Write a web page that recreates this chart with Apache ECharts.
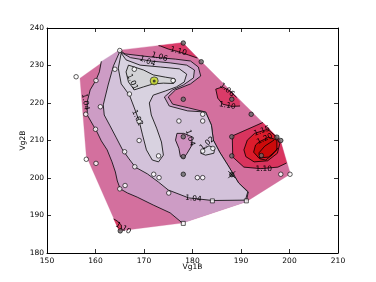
<!DOCTYPE html>
<html><head><meta charset="utf-8">
<script src="https://cdn.jsdelivr.net/npm/echarts@6/dist/echarts.min.js"></script>
<style>html,body{margin:0;padding:0;background:#fff}#c{width:376px;height:282px}</style>
</head><body><div id="c"></div>
<script>
const xTicks=[150,160,170,180,190,200,210];
const yTicks=[180,190,200,210,220,230,240];
// contour regions in data units [Vg1B, Vg2B, s]; s=0: edge to next point lies on the hull (no line)
const hull=[[156.8,226.6],[164.9,234.1],[178,236.1],[181.9,231],[198.1,210.1],[200.2,201.1],[191.1,193.7],[177.9,188],[164.9,185.9],[158.1,205.9]];
const regC=[[161.2,231.1,0],[164.9,234.1],[166.1,233.1],[171.3,232.3],[176.5,231.7],[179.6,231.2],[181.2,229.6],[181.7,227.2],[179.6,225.1],[176.5,223.5],[175.0,221.6],[175.9,219.7],[179.2,218.7],[182.7,217.6],[183.9,214.1],[184.3,210.1],[185.6,206.9],[187.4,203.2],[189.5,198.7],[191.5,196.3],[191.1,193.7,0],[177.9,188],[175.4,190.7],[171.9,192.8],[168.6,194.9],[166.6,196.0],[165.1,197.1],[164.5,199.2],[164.1,201.6],[163.4,204.3],[162.4,207.5],[161.2,209.9],[160.3,212.3],[159.5,214.1],[158.3,216.8],[158.3,220.3],[158.9,223.5],[160.1,226.1],[160.8,228.3]];
const regB=[[165.0,233.7],[167.2,232.1],[171.3,231.2],[175.4,230.7],[178.8,230.1],[180.4,228.8],[180.2,226.7],[178.1,224.8],[175.9,223.5],[174.2,221.6],[175.2,219.2],[179.0,217.9],[182.7,217.6],[183.9,214.1],[184.3,210.1],[185.6,206.9],[187.4,203.2],[189.5,198.7],[191.4,196.3],[190.9,194.1],[184.1,194.0],[179.2,194.7],[175.0,196.8],[173.0,198.9],[170.7,201.1],[168.2,202.9],[166.8,205.3],[165.5,207.7],[164.3,210.7],[163.0,213.9],[161.8,216.8],[161.6,219.5],[162.6,224.8],[163.7,229.9]];
const regA=[[165.3,233.3],[164.7,229.3],[165.3,225.1],[167.0,222.1],[168.0,218.7],[169.0,215.2],[169.7,211.5],[170.5,207.5],[171.7,204.8],[173.0,204.3],[174.0,206.1],[173.6,209.6],[172.6,213.3],[171.5,216.8],[171.1,220.0],[171.9,222.1],[174.4,223.2],[176.7,224.3],[178.3,225.6],[178.8,227.7],[177.3,229.1],[173.4,229.6],[169.2,230.1],[166.3,231.5]];
const regA0=[[166.8,230.1],[169.9,228.8],[171.9,227.5],[174.4,226.9],[176.3,226.5],[176.5,225.9],[176.1,225.2],[174.0,225.3],[171.9,225.1],[169.9,224.3],[168.0,223.5],[166.8,225.6],[166.3,228.3]];
const smallLoop=[[182.0,207.5],[183.4,208.6],[184.6,207.9],[184.4,206.6],[182.7,206.1],[181.7,206.6]];
const blob=[[176.8,211.9],[178.2,211.9],[179.9,211.0],[179.9,208.8],[178.9,206.6],[178.2,205.3],[177.5,205.7],[177.2,207.9],[176.5,210.1]];
const regE1=[[173.0,235.3,0],[178,236.1,0],[181.0,232.0],[179.2,232.8],[177.1,233.7],[175.0,234.4],[173.4,235.2]];
const regE2=[[184.8,223.7],[186.2,224.3],[187.7,223.2],[189.1,221.5,0],[189.7,220.5,0],[189.8,219.2],[188.1,219.1],[186.2,219.7],[185.2,221.3]];
const regEbl=[[163.75,189.1],[164.5,188.5],[165.3,187.5],[165.4,186.4,0],[164.9,185.9,0]];
const regE3=[[188.2,211.2],[194.5,214.8,0],[198.1,210.1,0],[199.4,204.0],[197.6,202.9],[194.1,202.5],[190.6,202.9],[188.3,205.6]];
const regF=[[192.8,211.9],[195.5,213.0],[197.0,211.3],[198.0,209.2],[197.5,206.6],[195.5,204.6],[192.7,204.3],[191.0,205.7],[190.6,207.5],[191.3,210.1]];
const regG=[[193.7,209.6],[195.7,210.9],[197.4,210.1],[197.4,207.5],[195.7,205.6],[193.7,205.3],[192.6,206.9],[193.0,208.8]];
const hook=[[196.8,210.1],[194.9,208.5],[193.7,206.7],[193.9,205.1],[195.1,204.8],[196.4,206.1],[197.6,208.0]];
// contour labels
const labelText=['1.04','1.01','1.02','1.04','1.06','1.10','1.06','1.10','1.15','1.20','1.10','1.04','1.02','1.04','1.10'];
const labelPos=[[157.9,220.3],[167.6,225.6],[168.6,216.0],[170.7,231.1],[173.2,232.3],[177.1,233.8],[187.1,223.5],[187.2,219.3],[194.3,212.5],[194.9,210.4],[194.7,202.4],[180.2,194.5],[183.0,209.2],[179.5,210.7],[165.7,186.6]];
const labelRot=[-80,-65,-65,-22,-18,-15,-40,-10,20,25,0,-5,40,-72,-30];
// sample points
const whitePts=[[156,227],[160.1,226],[165,234],[164,229],[168,229],[167,222.4],[161,219],[158,217],[160,213],[169,215.1],[176,226],[177.2,215.2],[182.1,217],[182.1,215.2],[184.2,207.9],[182.1,207.2],[173,205.9],[172,201],[173.1,200.1],[181,200.1],[182.1,200.1],[166,207],[169,210],[168.1,203],[158.1,205],[160.1,203.9],[166.1,198],[165,197.1],[175.1,196],[198.2,201],[200.1,201]];
const darkPts=[[178.1,236],[181.8,231],[178.1,221],[188.1,221],[192.1,217],[188.1,211],[188.1,205.9],[194.2,206],[197.4,210.9],[198.2,210],[178.1,211],[178.1,205.7],[178.1,201],[165.1,185.9]];
const squarePts=[[184.1,193.9],[191.1,193.9],[178.1,187.9]];
const crossPts=[[188.1,200.9]];
const yellowPts=[[172.1,225.9]];

const regions=[
 {pts:hull,fill:'#d3709e',line:false},
 {pts:regC,fill:'#cd9cc5',line:true},
 {pts:regB,fill:'#d3c2da',line:true},
 {pts:regA,fill:'#d8d2e0',line:true},
 {pts:regA0,fill:'#d3d3d6',line:true},
 {pts:smallLoop,fill:'#d8d2e0',line:true},
 {pts:blob,fill:'#cf93c0',line:true},
 {pts:regE1,fill:'#da3b68',line:true},
 {pts:regE2,fill:'#da3b68',line:true},
 {pts:regEbl,fill:'#d83a60',line:true},
 {pts:regE3,fill:'#d9345e',line:true},
 {pts:regF,fill:'#dc1c2c',line:true},
 {pts:regG,fill:'#cc0a0a',line:true}
];
const LS={fill:'transparent',stroke:'#000',lineWidth:0.8};
function renderRegion(params,api){
  const r=regions[api.value(0)];
  const pts=r.pts.map(p=>api.coord([p[0],p[1]]));
  const ch=[{type:'polygon',shape:{points:pts},style:{fill:r.fill,stroke:r.fill,lineWidth:0.3}}];
  if(r.line){
    const n=r.pts.length,start=r.pts.findIndex(p=>p[2]===0);
    if(start<0){ch.push({type:'polygon',shape:{points:pts},style:LS});}
    else{let cur=[];for(let k=1;k<=n;k++){const i=(start+k)%n;cur.push(pts[i]);if(r.pts[i][2]===0){if(cur.length>1)ch.push({type:'polyline',shape:{points:cur},style:LS});cur=[];}}}
  }
  return {type:'group',children:ch};
}
function renderHook(params,api){
  return {type:'polyline',shape:{points:hook.map(p=>api.coord(p))},style:LS};
}
function renderLabel(params,api){
  const i=api.value(2),c=api.coord([api.value(0),api.value(1)]);
  return {type:'text',x:c[0],y:c[1],rotation:labelRot[i]*Math.PI/180,
    style:{text:labelText[i],fill:'#000',fontSize:7.5,fontFamily:'DejaVu Sans',align:'center',verticalAlign:'middle'}};
}
const font={fontFamily:'DejaVu Sans',fontSize:7.5,color:'#000'};
const axisCommon={type:'value',splitLine:{show:false},axisLine:{onZero:false,lineStyle:{color:'#000',width:1}},axisTick:{inside:true,length:4,lineStyle:{color:'#000',width:0.8}}};
const chart=echarts.init(document.getElementById('c'));
chart.setOption({
  animation:false,backgroundColor:'#fff',
  grid:{left:47,top:28,width:291,height:225,show:false},
  xAxis:[
    Object.assign({},axisCommon,{position:'bottom',min:xTicks[0],max:xTicks[xTicks.length-1],interval:10,
      axisLabel:Object.assign({margin:4},font),name:'Vg1B',nameLocation:'middle',nameGap:10,nameMoveOverlap:false,nameTextStyle:Object.assign({verticalAlign:'top'},font)}),
    Object.assign({},axisCommon,{position:'top',min:xTicks[0],max:xTicks[xTicks.length-1],interval:10,axisLabel:{show:false}})
  ],
  yAxis:[
    Object.assign({},axisCommon,{position:'left',min:yTicks[0],max:yTicks[yTicks.length-1],interval:10,
      axisLabel:Object.assign({margin:3},font),name:'Vg2B',nameLocation:'middle',nameGap:20,nameMoveOverlap:false,nameRotate:90,nameTextStyle:font}),
    Object.assign({},axisCommon,{position:'right',min:yTicks[0],max:yTicks[yTicks.length-1],interval:10,axisLabel:{show:false}})
  ],
  series:[
    {type:'custom',renderItem:renderRegion,data:regions.map((r,i)=>[i]),encode:{x:0},z:1,silent:true},
    {type:'custom',renderItem:renderHook,data:[[0]],z:2,silent:true},
    {type:'custom',renderItem:renderLabel,data:labelPos.map((p,i)=>[p[0],p[1],i]),encode:{x:0,y:1},z:3,silent:true},
    {type:'scatter',data:whitePts,symbol:'circle',symbolSize:4.5,itemStyle:{color:'#fff',borderColor:'#000',borderWidth:0.8},z:4},
    {type:'scatter',data:darkPts,symbol:'circle',symbolSize:4.5,itemStyle:{color:'#6a6a6a',borderColor:'#000',borderWidth:0.8},z:4},
    {type:'scatter',data:squarePts,symbol:'rect',symbolSize:4,itemStyle:{color:'#fff',borderColor:'#000',borderWidth:0.8},z:4},
    {type:'scatter',data:crossPts,symbol:'circle',symbolSize:4.5,itemStyle:{color:'#444',borderColor:'#000',borderWidth:0.8},z:4},
    {type:'scatter',data:crossPts,symbol:'path://M0,0L10,10M10,0L0,10',symbolSize:7,itemStyle:{color:'transparent',borderColor:'#000',borderWidth:1},z:5},
    {type:'scatter',data:yellowPts,symbol:'circle',symbolSize:8,itemStyle:{color:'#c8dc1e',borderColor:'#333',borderWidth:1},z:5},
    {type:'scatter',data:yellowPts,symbol:'circle',symbolSize:3,itemStyle:{color:'#222'},z:6}
  ]
});
</script></body></html>
